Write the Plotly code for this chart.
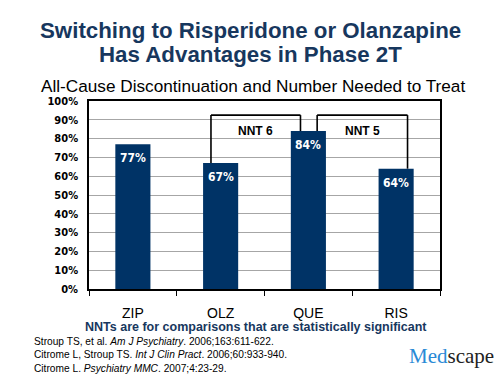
import plotly.graph_objects as go

categories = ["ZIP", "OLZ", "QUE", "RIS"]
values = [77, 67, 84, 64]
value_labels = ["77%", "67%", "84%", "64%"]
y_ticks = [0, 10, 20, 30, 40, 50, 60, 70, 80, 90, 100]
y_tick_labels = [f"{v}%" for v in y_ticks]
nnt_from = ["OLZ", "QUE"]
nnt_to = ["QUE", "RIS"]
nnt_labels = ["NNT 6", "NNT 5"]

NAVY = "#003366"
TITLE_C = "#17375e"
NARROW = "Liberation Sans Narrow, DejaVu Sans Condensed, Arial Narrow, sans-serif"
SANS = "Liberation Sans, Arial, sans-serif"

fig = go.Figure()
fig.add_trace(go.Bar(
    x=categories, y=values, width=0.4, marker=dict(color=NAVY, line=dict(width=0)),
    hoverinfo="skip",
))

shapes = []
annotations = []

# value labels inside bar tops
for c, v, lab in zip(categories, values, value_labels):
    annotations.append(dict(x=c, y=v, xref="x", yref="y", text=lab, showarrow=False, yanchor="top", yshift=-5,
                            font=dict(family=NARROW, size=12, color="white", weight="bold")))

# NNT brackets
bracket_top = 92.5
offsets = [(-0.11, -0.09), (0.10, 0.13)]
for (a, b), lab, (oa, ob) in zip(zip(nnt_from, nnt_to), nnt_labels, offsets):
    ia, ib = categories.index(a), categories.index(b)
    xa, xb = ia + oa, ib + ob
    ya, yb = values[ia], values[ib]
    for (x0, y0, x1, y1) in [(xa, ya, xa, bracket_top), (xa, bracket_top, xb, bracket_top), (xb, bracket_top, xb, yb)]:
        shapes.append(dict(type="line", xref="x", yref="y", x0=x0, y0=y0, x1=x1, y1=y1,
                           line=dict(color="black", width=1.6), layer="above"))
    annotations.append(dict(x=(xa + xb) / 2, y=84, xref="x", yref="y", text=lab, showarrow=False,
                            font=dict(family=SANS, size=12, color="black", weight="bold")))

def py(px):
    return (289 - px) / 188

def pxx(px):
    return (px - 89) / 351

annotations += [
    dict(x=pxx(250), y=py(30), xref="paper", yref="paper", text="Switching to Risperidone or Olanzapine",
         showarrow=False, font=dict(family=SANS, size=22.3, color=TITLE_C, weight="bold"), xanchor="center", yanchor="middle"),
    dict(x=pxx(250), y=py(55), xref="paper", yref="paper", text="Has Advantages in Phase 2T",
         showarrow=False, font=dict(family=SANS, size=22.3, color=TITLE_C, weight="bold"), xanchor="center", yanchor="middle"),
    dict(x=pxx(253), y=py(85.5), xref="paper", yref="paper", text="All-Cause Discontinuation and Number Needed to Treat",
         showarrow=False, font=dict(family=SANS, size=17.2, color="black"), xanchor="center", yanchor="middle"),
    dict(x=pxx(256), y=py(327), xref="paper", yref="paper",
         text="NNTs are for comparisons that are statistically significant",
         showarrow=False, font=dict(family=SANS, size=12.5, color=TITLE_C, weight="bold"), xanchor="center", yanchor="middle"),
    dict(x=pxx(32), y=py(355), xref="paper", yref="paper", align="left",
         text="Stroup TS, et al. <i>Am J Psychiatry</i>. 2006;163:611-622.<br>"
              "Citrome L, Stroup TS. <i>Int J Clin Pract</i>. 2006;60:933-940.<br>"
              "Citrome L. <i>Psychiatry MMC</i>. 2007;4:23-29.",
         showarrow=False, font=dict(family=SANS, size=10.2, color="black"), xanchor="left", yanchor="middle"),
    dict(x=pxx(451), y=py(356), xref="paper", yref="paper",
         text="<span style='color:#2a8ad6'>Med</span><span style='color:#222222'>scape</span>",
         showarrow=False, font=dict(family="Liberation Serif, Times New Roman, serif", size=21), xanchor="center", yanchor="middle"),
]

fig.update_layout(
    width=500, height=375,
    margin=dict(l=89, r=60, t=101, b=86),
    paper_bgcolor="white", plot_bgcolor="white",
    showlegend=False,
    shapes=shapes, annotations=annotations,
)
fig.update_xaxes(type="category", range=[-0.5, 3.5], showline=True, linecolor="black", linewidth=1.5, mirror=True,
                 ticks="outside", tickson="boundaries", ticklen=5, tickcolor="black", tickwidth=1,
                 tickfont=dict(family=SANS, size=14, color="black"), ticklabelstandoff=10, showgrid=False)
fig.update_yaxes(range=[0, 100], tickvals=y_ticks, ticktext=y_tick_labels, showline=True, linecolor="black",
                 linewidth=1.5, mirror=True, showgrid=True, gridcolor="#a6a6a6", gridwidth=1,
                 tickfont=dict(family=NARROW, size=11, color="black", weight="bold"), ticks="", ticklabelstandoff=7,
                 zeroline=False)

fig.write_html("out.html", config={"displayModeBar": False}, post_script="document.body.style.margin='0px';")
